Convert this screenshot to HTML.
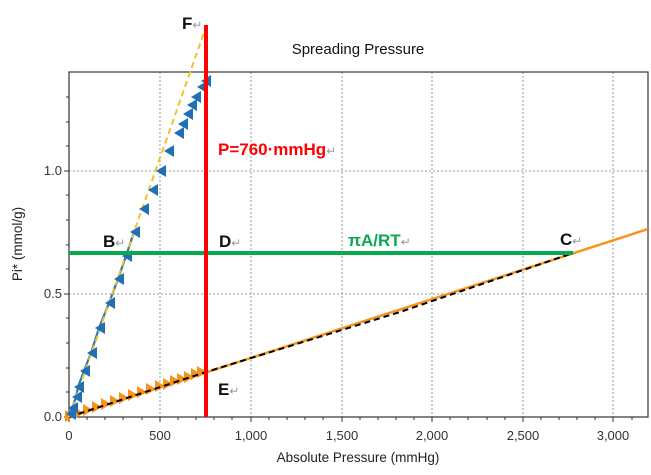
<!DOCTYPE html>
<html><head><style>body{margin:0;background:#fff}svg{display:block}</style></head><body>
<svg width="651" height="475" xmlns="http://www.w3.org/2000/svg" font-family="Liberation Sans, sans-serif">
<rect width="651" height="475" fill="#fff"/>
<text x="358" y="54" font-size="15" text-anchor="middle" fill="#111">Spreading Pressure</text>
<g stroke="#999" stroke-dasharray="2,2" stroke-width="1">
<line x1="160" y1="72" x2="160" y2="417"/><line x1="251" y1="72" x2="251" y2="417"/>
<line x1="342" y1="72" x2="342" y2="417"/><line x1="432" y1="72" x2="432" y2="417"/>
<line x1="523" y1="72" x2="523" y2="417"/><line x1="613" y1="72" x2="613" y2="417"/>
<line x1="69" y1="294" x2="648" y2="294"/><line x1="69" y1="171" x2="648" y2="171"/>
</g>
<rect x="69" y="72" width="579" height="345" fill="none" stroke="#333" stroke-width="1.2"/>
<g stroke="#333" stroke-width="1">
<line x1="64" y1="417" x2="69" y2="417"/><line x1="64" y1="294" x2="69" y2="294"/><line x1="64" y1="171" x2="69" y2="171"/>
<line x1="66" y1="392" x2="69" y2="392"/><line x1="66" y1="368" x2="69" y2="368"/><line x1="66" y1="343" x2="69" y2="343"/><line x1="66" y1="318" x2="69" y2="318"/>
<line x1="66" y1="269" x2="69" y2="269"/><line x1="66" y1="245" x2="69" y2="245"/><line x1="66" y1="220" x2="69" y2="220"/><line x1="66" y1="195" x2="69" y2="195"/>
<line x1="66" y1="146" x2="69" y2="146"/><line x1="66" y1="122" x2="69" y2="122"/><line x1="66" y1="97" x2="69" y2="97"/>
<line x1="69" y1="417" x2="69" y2="422"/><line x1="160" y1="417" x2="160" y2="422"/><line x1="251" y1="417" x2="251" y2="422"/><line x1="342" y1="417" x2="342" y2="422"/><line x1="432" y1="417" x2="432" y2="422"/><line x1="523" y1="417" x2="523" y2="422"/><line x1="613" y1="417" x2="613" y2="422"/>
</g>
<path d="M87,417v3M105,417v3M123,417v3M142,417v3M178,417v3M196,417v3M214,417v3M232,417v3M269,417v3M287,417v3M305,417v3M323,417v3M360,417v3M378,417v3M396,417v3M414,417v3M450,417v3M468,417v3M487,417v3M505,417v3M541,417v3M559,417v3M577,417v3M595,417v3M632,417v3" stroke="#333"/>
<g font-size="13" fill="#333">
<text x="62" y="421" text-anchor="end">0.0</text><text x="62" y="298" text-anchor="end">0.5</text><text x="62" y="175" text-anchor="end">1.0</text>
<g text-anchor="middle"><text x="69" y="440">0</text><text x="160" y="440">500</text><text x="251" y="440">1,000</text><text x="342" y="440">1,500</text><text x="432" y="440">2,000</text><text x="523" y="440">2,500</text><text x="613" y="440">3,000</text></g>
</g>
<text x="358" y="462" font-size="13.5" text-anchor="middle" fill="#222">Absolute Pressure (mmHg)</text>
<text transform="translate(22,244) rotate(-90)" font-size="13.5" text-anchor="middle" fill="#222">Pi* (mmol/g)</text>
<line x1="69" y1="417" x2="648" y2="229" stroke="#f7941d" stroke-width="2.5"/>
<g fill="#f7941d">
<path d="M65,410 l10,6 -10,6z"/><path d="M74,407 l10,6 -10,6z"/><path d="M83,404 l10,6 -10,6z"/><path d="M92,401 l10,6 -10,6z"/><path d="M101,398 l10,6 -10,6z"/><path d="M110,395 l10,6 -10,6z"/><path d="M119,392 l10,6 -10,6z"/><path d="M128,389 l10,6 -10,6z"/><path d="M137,386 l10,6 -10,6z"/><path d="M146,383 l10,6 -10,6z"/><path d="M155,380 l10,6 -10,6z"/><path d="M163,378 l10,6 -10,6z"/><path d="M170,375 l10,6 -10,6z"/><path d="M177,373 l10,6 -10,6z"/><path d="M184,371 l10,6 -10,6z"/><path d="M191,368 l10,6 -10,6z"/><path d="M197,366 l10,6 -10,6z"/>
</g>
<path d="M69,417 L206,372 L400,312 L573,253" fill="none" stroke="#000" stroke-width="2" stroke-dasharray="6,4"/>
<polyline points="69,417 70,414 72,408 76,397 78,387 84,371 91,353 99,328 109,303 118,279 126,256 134,232" fill="none" stroke="#2878b8" stroke-width="2.2"/>
<line x1="69" y1="417" x2="206" y2="27" stroke="#f5c023" stroke-width="2" stroke-dasharray="6,4"/>
<g fill="#2070b4">
<path d="M0,0 l10,-6 0,12z" transform="translate(66,414)"/>
<path d="M0,0 l10,-6 0,12z" transform="translate(68,408)"/><path d="M0,0 l10,-6 0,12z" transform="translate(72,397)"/><path d="M0,0 l10,-6 0,12z" transform="translate(74,387)"/><path d="M0,0 l10,-6 0,12z" transform="translate(80,371)"/><path d="M0,0 l10,-6 0,12z" transform="translate(87,353)"/><path d="M0,0 l10,-6 0,12z" transform="translate(95,328)"/><path d="M0,0 l10,-6 0,12z" transform="translate(105,303)"/><path d="M0,0 l10,-6 0,12z" transform="translate(114,279)"/><path d="M0,0 l10,-6 0,12z" transform="translate(122,256)"/><path d="M0,0 l10,-6 0,12z" transform="translate(130,232)"/><path d="M0,0 l10,-6 0,12z" transform="translate(139,209)"/><path d="M0,0 l10,-6 0,12z" transform="translate(148,190)"/><path d="M0,0 l10,-6 0,12z" transform="translate(156,171)"/><path d="M0,0 l10,-6 0,12z" transform="translate(164,151)"/><path d="M0,0 l10,-6 0,12z" transform="translate(174,133)"/><path d="M0,0 l10,-6 0,12z" transform="translate(178,124)"/><path d="M0,0 l10,-6 0,12z" transform="translate(183,114)"/><path d="M0,0 l10,-6 0,12z" transform="translate(187,105)"/><path d="M0,0 l10,-6 0,12z" transform="translate(191,97)"/><path d="M0,0 l10,-6 0,12z" transform="translate(197,87)"/><path d="M0,0 l10,-6 0,12z" transform="translate(201,81)"/>
</g>
<line x1="69" y1="253" x2="573" y2="253" stroke="#0aa84f" stroke-width="4"/>
<line x1="206" y1="25" x2="206" y2="417" stroke="#f00" stroke-width="4"/>
<g font-size="17" font-weight="bold">
<text x="182" y="29" fill="#111">F<tspan fill="#999" font-weight="normal" font-size="12">↵</tspan></text>
<text x="218" y="155" fill="#f00">P=760·mmHg<tspan fill="#999" font-weight="normal" font-size="12">↵</tspan></text>
<text x="103" y="247" fill="#111">B<tspan fill="#999" font-weight="normal" font-size="12">↵</tspan></text>
<text x="219" y="247" fill="#111">D<tspan fill="#999" font-weight="normal" font-size="12">↵</tspan></text>
<text x="348" y="246" fill="#0aa84f">πA/RT<tspan fill="#999" font-weight="normal" font-size="12">↵</tspan></text>
<text x="560" y="245" fill="#111">C<tspan fill="#999" font-weight="normal" font-size="12">↵</tspan></text>
<text x="218" y="395" fill="#111">E<tspan fill="#999" font-weight="normal" font-size="12">↵</tspan></text>
</g>
</svg>
</body></html>
